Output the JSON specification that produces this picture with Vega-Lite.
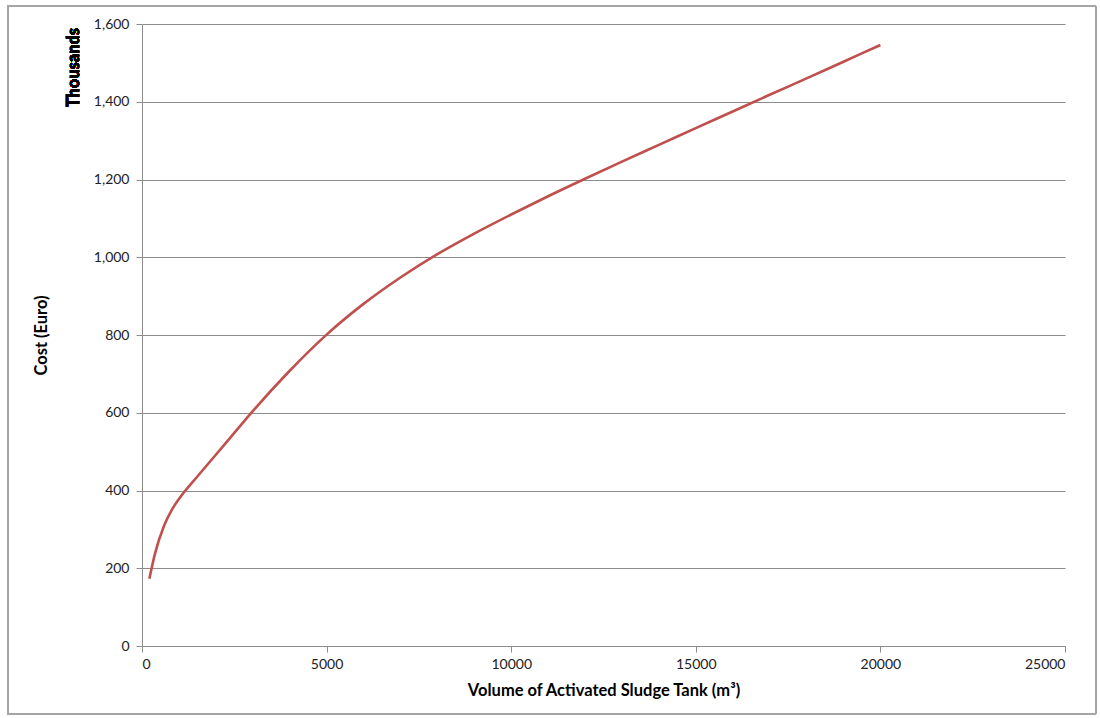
{
  "$schema": "https://vega.github.io/schema/vega-lite/v6.json",
  "width": 923,
  "height": 622,
  "autosize": "none",
  "padding": {"left": 142, "top": 24, "right": 35, "bottom": 72},
  "background": "white",
  "config": {
    "font": "Lato",
    "view": {"stroke": null},
    "axis": {
      "labelFont": "Lato",
      "titleFont": "Lato",
      "labelFontSize": 14,
      "labelColor": "#222222",
      "titleFontSize": 16.5,
      "titleFontWeight": "bold",
      "titleColor": "#000000",
      "domainColor": "#8c8c8c",
      "tickColor": "#8c8c8c",
      "gridColor": "#8c8c8c",
      "tickSize": 6
    }
  },
  "data": {
    "values": [
      {"volume": 200, "cost": 173},
      {"volume": 350, "cost": 237},
      {"volume": 600, "cost": 310},
      {"volume": 800, "cost": 349},
      {"volume": 1000, "cost": 378},
      {"volume": 1500, "cost": 436},
      {"volume": 2000, "cost": 492},
      {"volume": 2500, "cost": 548},
      {"volume": 3000, "cost": 604},
      {"volume": 4000, "cost": 708},
      {"volume": 5000, "cost": 801},
      {"volume": 6000, "cost": 880},
      {"volume": 7000, "cost": 948},
      {"volume": 8000, "cost": 1008},
      {"volume": 9000, "cost": 1061},
      {"volume": 10000, "cost": 1110},
      {"volume": 11000, "cost": 1157},
      {"volume": 12000, "cost": 1202},
      {"volume": 13000, "cost": 1246},
      {"volume": 14000, "cost": 1289},
      {"volume": 15000, "cost": 1332},
      {"volume": 16000, "cost": 1375},
      {"volume": 17000, "cost": 1418},
      {"volume": 18000, "cost": 1460},
      {"volume": 19000, "cost": 1503},
      {"volume": 20000, "cost": 1546}
    ]
  },
  "layer": [
    {
      "mark": {"type": "line", "color": "#C0504D", "strokeWidth": 2.6, "interpolate": "monotone"},
      "encoding": {
        "x": {
          "field": "volume",
          "type": "quantitative",
          "scale": {"domain": [0, 25000], "nice": false},
          "axis": {
            "title": "Volume of Activated Sludge Tank (m³)",
            "values": [0, 5000, 10000, 15000, 20000, 25000],
            "format": "d",
            "grid": false,
            "labelPadding": 5,
            "titlePadding": 11
          }
        },
        "y": {
          "field": "cost",
          "type": "quantitative",
          "scale": {"domain": [0, 1600], "nice": false},
          "axis": {
            "title": "Cost (Euro)",
            "values": [0, 200, 400, 600, 800, 1000, 1200, 1400, 1600],
            "format": ",.0f",
            "grid": true,
            "labelPadding": 7,
            "titlePadding": 44
          }
        }
      }
    },
    {
      "mark": {"type": "text", "text": "Thousands", "angle": 270, "align": "right", "baseline": "middle", "font": "Lato", "fontSize": 16.5, "fontWeight": "bold", "fill": "#000000", "stroke": null},
      "encoding": {
        "x": {"datum": -1840, "type": "quantitative"},
        "y": {"datum": 1590, "type": "quantitative"}
      }
    },
    {
      "mark": {"type": "rect", "fill": null, "fillOpacity": 0, "stroke": "#a6a6a6", "strokeWidth": 1},
      "encoding": {
        "x": {"datum": -3640, "type": "quantitative"},
        "x2": {"datum": 25830},
        "y": {"datum": 1646, "type": "quantitative"},
        "y2": {"datum": -175}
      }
    }
  ]
}
